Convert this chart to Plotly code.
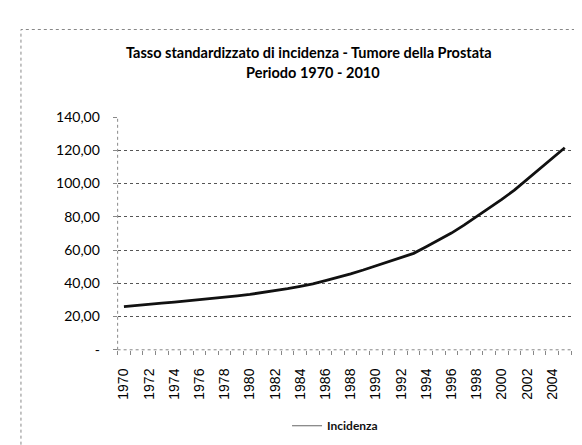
import plotly.graph_objects as go

years = list(range(1970, 2006))
incidenza = [26.0, 26.8, 27.4, 28.0, 28.7, 29.4, 30.0, 30.8, 31.6, 32.4,
             33.3, 34.4, 35.6, 36.8, 38.2, 39.6, 41.6, 43.5, 45.7, 48.0,
             50.5, 53.0, 55.5, 58.0, 62.0, 66.0, 70.2, 75.0, 80.0, 85.2,
             90.5, 96.0, 102.4, 108.6, 115.0, 121.5]
y_tickvals = [0, 20, 40, 60, 80, 100, 120, 140]
y_ticktext = ["-", "20,00", "40,00", "60,00", "80,00", "100,00", "120,00", "140,00"]
x_tickvals = list(range(1970, 2006, 2))
x_ticktext = [str(v) for v in x_tickvals]
title_lines = ["Tasso standardizzato di incidenza - Tumore della Prostata", "Periodo 1970 - 2010"]
series_name = "Incidenza"

W, H = 582, 445
def px(x):
    return x / W
def py(y):
    return 1 - y / H

L, R, T, B = 108, 563, 104, 346

fig = go.Figure()
fig.add_trace(go.Scatter(x=years, y=incidenza, mode="lines", name=series_name,
                         line=dict(color="#111111", width=2.8), showlegend=False))
fig.add_trace(go.Scatter(x=[None], y=[None], mode="lines", name=series_name,
                         line=dict(color="#666666", width=1), showlegend=True))

fig.update_layout(
    width=W, height=H,
    margin=dict(l=0, r=0, t=0, b=0),
    paper_bgcolor="white", plot_bgcolor="white",
    font=dict(family="Lato", color="#111111"),
    showlegend=True,
    legend=dict(orientation="h", x=px(278), xanchor="left", y=py(425), yanchor="middle",
                font=dict(family="Lato", size=12, color="#111111", weight="bold"),
                itemwidth=30, bgcolor="rgba(0,0,0,0)"),
    xaxis=dict(domain=[px(L), px(R)], range=[1969.5, 2005.5],
               tickmode="array", tickvals=x_tickvals, ticktext=x_ticktext,
               tickangle=-90, ticks="", showgrid=False, zeroline=False,
               showline=False, ticklabelstandoff=15,
               tickfont=dict(family="Liberation Sans", size=14, color="#000000"),
               minor=dict(ticks="outside", ticklen=4, tickcolor="#888888",
                          tickmode="linear", tick0=1969.5, dtick=1, showgrid=False)),
    yaxis=dict(domain=[py(B), py(T)], range=[0, 140],
               tickmode="array", tickvals=y_tickvals, ticktext=y_ticktext,
               ticks="outside", ticklen=4, tickcolor="#888888",
               showgrid=True, gridcolor="#555555", griddash="dot", gridwidth=1,
               zeroline=False, showline=False, ticklabelstandoff=10,
               tickfont=dict(family="Lato", size=14, color="#000000")),
    annotations=[
        dict(text="<b>" + title_lines[0] + "</b>", x=px(300), y=py(37), xref="paper", yref="paper",
             xanchor="center", yanchor="middle",
             showarrow=False, font=dict(family="Lato", size=14.5, color="#000000")),
        dict(text="<b>" + title_lines[1] + "</b>", x=px(304), y=py(58), xref="paper", yref="paper",
             xanchor="center", yanchor="middle",
             showarrow=False, font=dict(family="Lato", size=14.5, color="#000000")),
    ],
    shapes=[
        dict(type="rect", xref="paper", yref="paper", x0=px(11), x1=px(581), y0=-0.01, y1=py(13),
             line=dict(color="#888888", width=1, dash="dot")),
        dict(type="line", xref="paper", yref="paper", x0=px(L), x1=px(L), y0=py(B), y1=py(T),
             line=dict(color="#888888", width=1, dash="dot")),
        dict(type="line", xref="paper", yref="paper", x0=px(L), x1=px(R), y0=py(B), y1=py(B),
             line=dict(color="#888888", width=1, dash="dot")),
    ],
)

fig.write_html("out.html")
